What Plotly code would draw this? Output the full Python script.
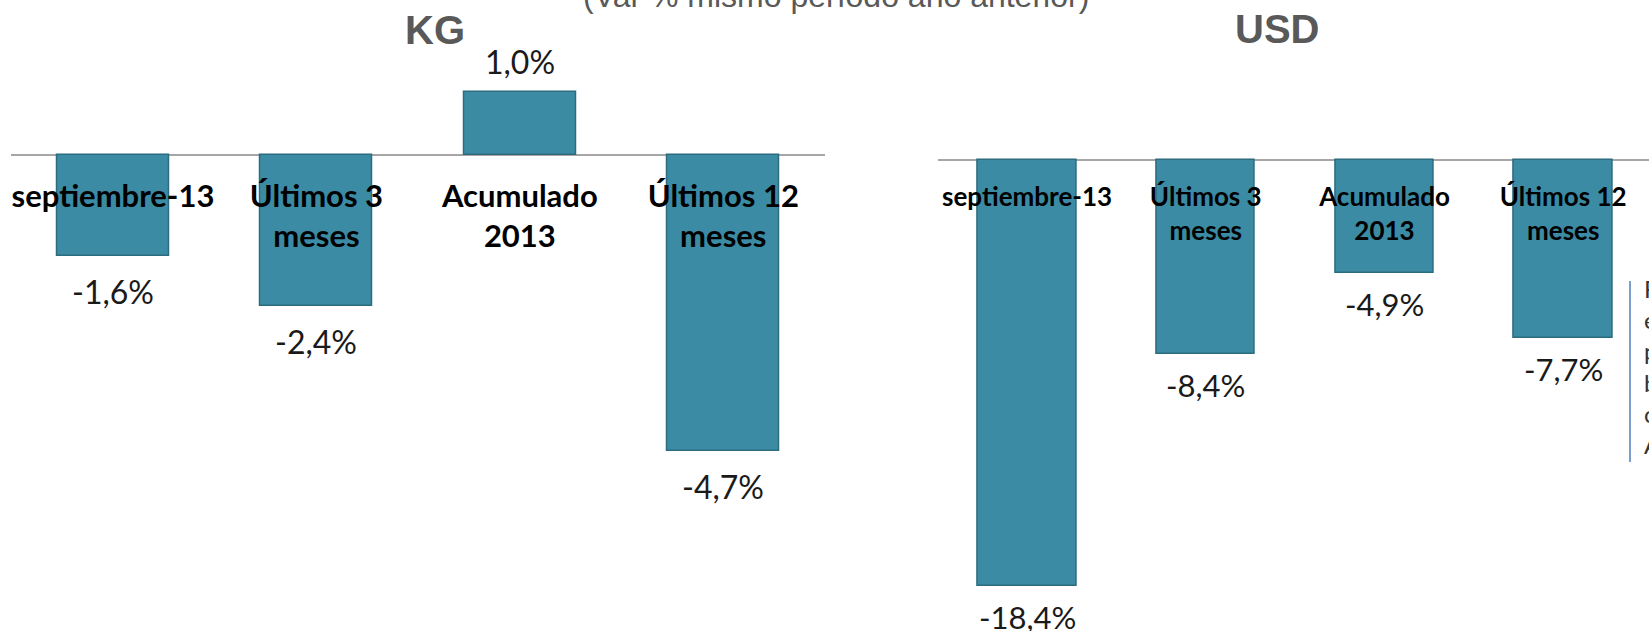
import plotly.graph_objects as go

W, H = 1649, 631

# ---- data ----
categories_kg = ["septiembre-13", "Últimos 3<br>meses", "Acumulado<br>2013", "Últimos 12<br>meses"]
values_kg = [-1.6, -2.4, 1.0, -4.7]
categories_usd = ["septiembre-13", "Últimos 3<br>meses", "Acumulado<br>2013", "Últimos 12<br>meses"]
values_usd = [-18.4, -8.4, -4.9, -7.7]
title_kg = "KG"
title_usd = "USD"
subtitle = "(Var % mismo período año anterior)"
side_note_initials = ["F", "e", "p", "b", "c", "A"]

BAR = "#3A8BA3"
EDGE = "#2C6C7F"
GRAY = "#595959"

def px_x(p):
    return p / W

def px_y(p):
    return 1 - p / H

def fmt(v):
    return f"{v:.1f}".replace(".", ",") + "%"

fig = go.Figure()

fig.add_trace(go.Bar(
    x=categories_kg, y=values_kg, width=0.55,
    marker=dict(color=BAR, line=dict(color=EDGE, width=1.5)),
    xaxis="x", yaxis="y", hoverinfo="skip", showlegend=False,
))
fig.add_trace(go.Bar(
    x=categories_usd, y=values_usd, width=0.55,
    marker=dict(color=BAR, line=dict(color=EDGE, width=1.5)),
    xaxis="x2", yaxis="y2", hoverinfo="skip", showlegend=False,
))

annotations = []
for cats, vals, xr, yr, size, neg_shift in [
    (categories_kg, values_kg, "x", "y", 32, -14),
    (categories_usd, values_usd, "x2", "y2", 31, -10),
]:
    for c, v in zip(cats, vals):
        annotations.append(dict(
            x=c, y=v, xref=xr, yref=yr, text=fmt(v), showarrow=False,
            yanchor="top" if v < 0 else "bottom",
            yshift=neg_shift if v < 0 else 9,
            font=dict(family="Lato", size=size, color="#1a1a1a"),
        ))

annotations += [
    dict(x=px_x(435), y=px_y(30), xref="paper", yref="paper", text=f"<b>{title_kg}</b>",
         showarrow=False, xanchor="center", yanchor="middle",
         font=dict(family="Liberation Sans", size=40, color=GRAY)),
    dict(x=px_x(1277), y=px_y(29), xref="paper", yref="paper", text=f"<b>{title_usd}</b>",
         showarrow=False, xanchor="center", yanchor="middle",
         font=dict(family="Liberation Sans", size=40, color=GRAY)),
    dict(x=px_x(836), y=px_y(16), xref="paper", yref="paper", text=subtitle,
         showarrow=False, xanchor="center", yanchor="bottom",
         font=dict(family="Liberation Sans", size=32, color=GRAY)),
    dict(x=px_x(1642), y=px_y(272), xref="paper", yref="paper",
         text="<br>".join(side_note_initials), align="left",
         showarrow=False, xanchor="left", yanchor="top",
         font=dict(family="Lato", size=24, color="#333333")),
]

shapes = [
    dict(type="line", xref="paper", yref="paper", x0=px_x(1630), x1=px_x(1630),
         y0=px_y(281), y1=px_y(462), line=dict(color="#4F81BD", width=1.5)),
]

fig.update_layout(
    width=W, height=H,
    margin=dict(l=0, r=0, t=0, b=0),
    paper_bgcolor="white", plot_bgcolor="white",
    bargap=0,
    annotations=annotations,
    shapes=shapes,
    xaxis=dict(domain=[px_x(11.25), px_x(825)], anchor="free", position=px_y(155),
               range=[-0.5, 3.5], showline=False, showgrid=False, zeroline=False,
               ticks="", ticklabelstandoff=20,
               tickfont=dict(family="Lato", size=31, color="#000000", weight="bold")),
    yaxis=dict(domain=[0, 1], anchor="x", range=[-7.556, 2.46],
               showticklabels=False, showgrid=False, showline=False, ticks="",
               zeroline=True, zerolinecolor="#A6A6A6", zerolinewidth=2),
    xaxis2=dict(domain=[px_x(937.7), 1.0], anchor="free", position=px_y(160),
                range=[-0.5, 3.48], showline=False, showgrid=False, zeroline=False,
                ticks="", ticklabelstandoff=19,
                tickfont=dict(family="Lato", size=26, color="#000000", weight="bold")),
    yaxis2=dict(domain=[0, 1], anchor="x2", range=[-20.35, 6.91],
                showticklabels=False, showgrid=False, showline=False, ticks="",
                zeroline=True, zerolinecolor="#A6A6A6", zerolinewidth=2),
)

fig.write_html(
    "out.html",
    config={"displayModeBar": False},
    post_script="document.body.style.margin='0';document.body.style.overflow='hidden';",
)
